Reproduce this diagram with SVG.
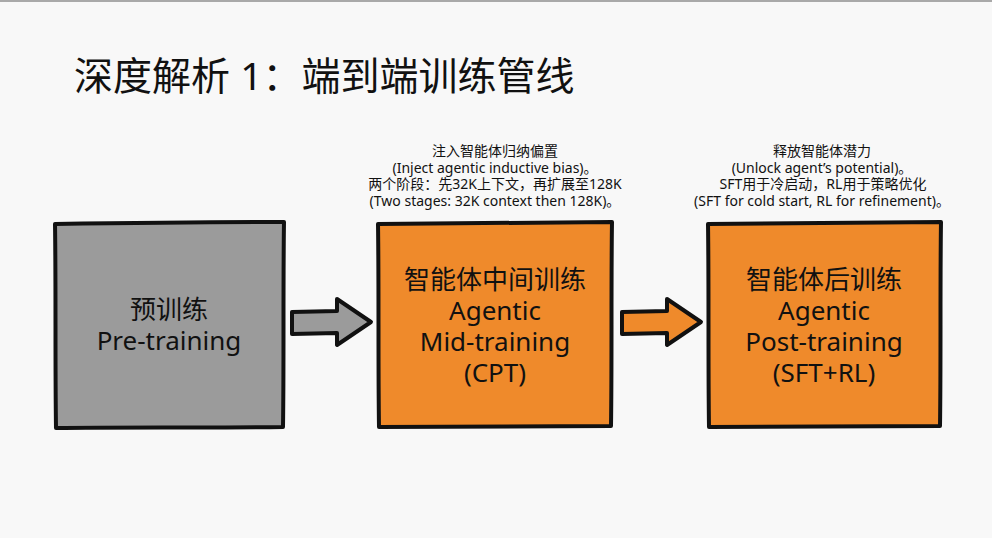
<svg xmlns="http://www.w3.org/2000/svg" width="992" height="538" viewBox="0 0 992 538">
  <defs>
    <style>
      .bg { fill: #f8f8f8; }
      .box { stroke: #111; stroke-width: 4; stroke-linejoin: round; }
      .gray { fill: #9b9b9b; }
      .orange { fill: #ef8a2b; }
      .arrow { stroke: #111; stroke-width: 4; stroke-linejoin: round; }
      .t { font-family: "Noto Sans", "Noto Sans CJK SC", sans-serif; fill: #111; text-anchor: middle; }
      .title { font-family: "Noto Sans", "Noto Sans CJK SC", sans-serif; fill: #111; font-size: 39px; }
      .label { font-size: 26px; }
      .note { font-size: 14px; }
    </style>
  </defs>
  <rect class="bg" x="0" y="0" width="992" height="538"/>
  <rect x="0" y="0" width="992" height="2" fill="#a9a9a9"/>

  <text class="title" x="74" y="90">深度解析 1：端到端训练管线</text>

  <g id="node-pretraining">
    <path class="box gray" d="M55,224 C120,223 200,222 284,222 C283,290 284,360 283,427 C200,428 120,427 56,428 C55,360 56,290 55,224 Z"/>
    <text class="t label"><tspan x="169" y="319">预训练</tspan><tspan x="169" y="350">Pre-training</tspan></text>
  </g>

  <g id="node-midtraining">
    <path class="box orange" d="M378,224 C450,223 530,222 612,222 C611,290 612,360 611,426 C530,427 450,426 379,427 C378,360 379,290 378,224 Z"/>
    <text class="t label"><tspan x="495" y="289">智能体中间训练</tspan><tspan x="495" y="320">Agentic</tspan><tspan x="495" y="351">Mid-training</tspan><tspan x="495" y="382">(CPT)</tspan></text>
    <text id="note-midtraining" class="t note"><tspan x="495" y="156">注入智能体归纳偏置</tspan><tspan x="495" y="173">(Inject agentic inductive bias)。</tspan><tspan x="495" y="189">两个阶段：先32K上下文，再扩展至128K</tspan><tspan x="495" y="206">(Two stages: 32K context then 128K)。</tspan></text>
  </g>

  <g id="node-posttraining">
    <path class="box orange" d="M708,224 C780,223 860,222 941,222 C940,290 941,360 940,426 C860,427 780,426 709,427 C708,360 709,290 708,224 Z"/>
    <text class="t label"><tspan x="824" y="289">智能体后训练</tspan><tspan x="824" y="320">Agentic</tspan><tspan x="824" y="351">Post-training</tspan><tspan x="824" y="382">(SFT+RL)</tspan></text>
    <text id="note-posttraining" class="t note"><tspan x="822" y="156">释放智能体潜力</tspan><tspan x="822" y="173">(Unlock agent’s potential)。</tspan><tspan x="823" y="189">SFT用于冷启动，RL用于策略优化</tspan><tspan x="822" y="206">(SFT for cold start, RL for refinement)。</tspan></text>
  </g>

  <g id="connectors">
    <path class="arrow gray" d="M292,312 L337,311 L337,299 L371,322 L337,345 L337,333 L292,334 Z"/>
    <path class="arrow orange" d="M622,312 L667,311 L667,299 L701,322 L667,345 L667,333 L622,334 Z"/>
  </g>
</svg>
